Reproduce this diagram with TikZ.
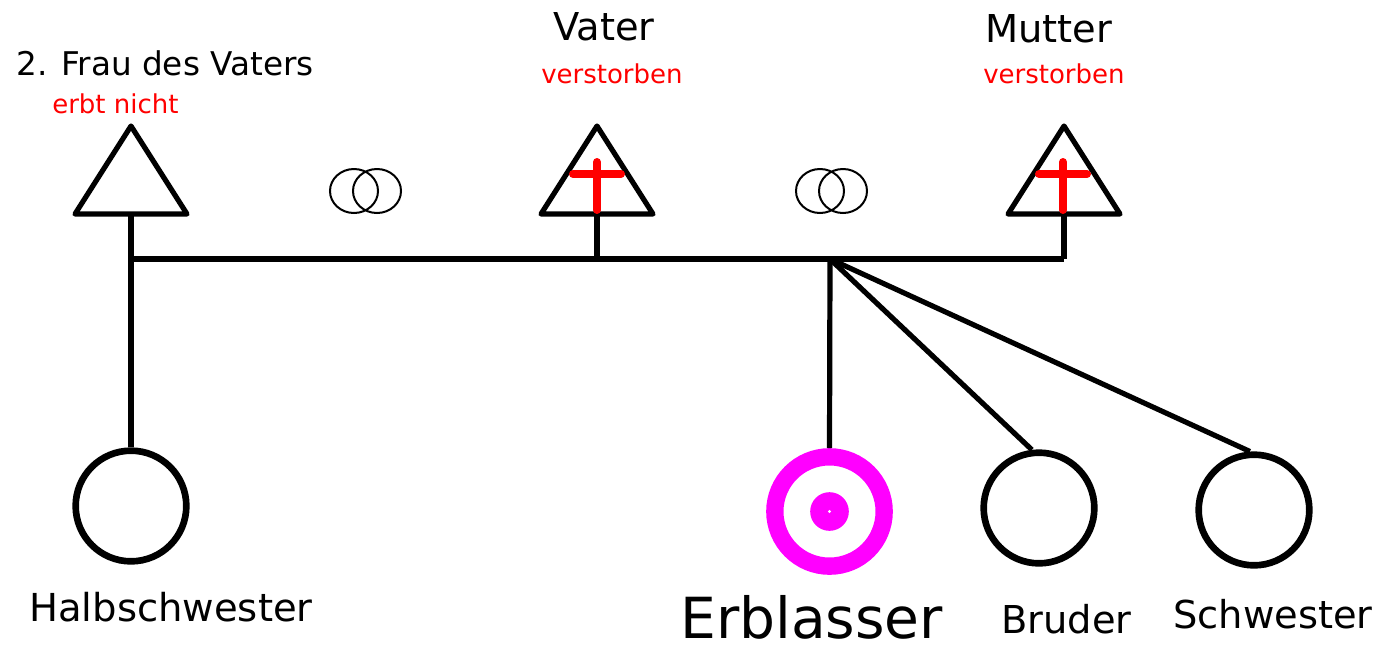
\documentclass[tikz,border=0pt]{standalone}
\usepackage{fontspec}
\setmainfont{DejaVu Sans}
\definecolor{magentargb}{RGB}{255,0,255}
\definecolor{redrgb}{RGB}{255,0,0}
\begin{document}
\begin{tikzpicture}[x=0.75pt,y=-0.75pt,
  tri/.style={draw=black,line width=3.9pt,line join=round},
  crossline/.style={draw=redrgb,line width=6pt,line cap=round},
  link/.style={draw=black,line width=3.9pt},
  person/.style={circle,draw=black,line width=5pt,minimum size=83pt,inner sep=0pt},
  ring/.style={draw=black,line width=1.5pt},
  lbl/.style={anchor=base west,inner sep=0pt,text depth=0pt,font=\fontsize{28.8}{30}\selectfont},
  redlbl/.style={anchor=base west,inner sep=0pt,text=redrgb,font=\fontsize{19.5}{21}\selectfont}]
\useasboundingbox[fill=white] (0,0) rectangle (1381,647);

% triangles
\draw[tri] (131,126) -- (187,214) -- (75,214) -- cycle;
\draw[tri] (597,126) -- (653,214) -- (541,214) -- cycle;
\draw[tri] (1064,126) -- (1120,214) -- (1008,214) -- cycle;
\coordinate (frau) at (131,214);
\coordinate (vater) at (597,214);
\coordinate (mutter) at (1064,214);

% crosses
\draw[crossline] (597,162) -- (597,210);
\draw[crossline] (573,174) -- (621,174);
\draw[crossline] (1063,162) -- (1063,210);
\draw[crossline] (1039,174) -- (1087,174);

% marriage rings
\draw[ring] (354,191) ellipse [x radius=24, y radius=22];
\draw[ring] (377,191) ellipse [x radius=24, y radius=22];
\draw[ring] (820,191) ellipse [x radius=24, y radius=22];
\draw[ring] (843,191) ellipse [x radius=24, y radius=22];

% persons
\node[person] (hs) at (131,506) {};
\node[person] (br) at (1039,508) {};
\node[person] (sw) at (1254,510) {};
\node[circle,draw=magentargb,line width=13pt,minimum size=82pt,inner sep=0pt] (erb) at (829.5,511.5) {};
\node[circle,fill=magentargb,minimum size=29pt,inner sep=0pt] (erbdot) at (829.5,511.5) {};
\fill[white] (erbdot.center) circle [radius=1.6];

% lines
\coordinate (hl) at (131,259);
\coordinate (hr) at (1064,259);
\coordinate (branch) at (830,259);
\draw[link] (hl) -- (hr);
\draw[link] (frau) -- (hs.north);
\draw[link] (vater) -- (597,259);
\draw[link] (mutter) -- (hr);
\draw[link] (branch) -- (erb.north);
\draw[link] (branch) -- (br.97);
\draw[link] (branch) -- (sw.94);

% texts
\node[lbl,font=\fontsize{24.5}{26}\selectfont] (tfrau) at (16,75) {2. Frau des Vaters};
\node[redlbl] (tfrau2) at (52,113) {erbt nicht};
\node[lbl] (tvater) at (553,40) {Vater};
\node[redlbl] (tvater2) at (541,83) {verstorben};
\node[lbl] (tmutter) at (985,42) {Mutter};
\node[redlbl] (tmutter2) at (983,83) {verstorben};
\node[lbl,font=\fontsize{28.9}{30}\selectfont] (ths) at (29,621) {Halbschwester};
\node[lbl,font=\fontsize{42.5}{44}\selectfont] (terb) at (680,638) {Erblasser};
\node[lbl] (tbr) at (1001,633) {Bruder};
\node[lbl] (tsw) at (1173,628) {Schwester};
\end{tikzpicture}
\end{document}
